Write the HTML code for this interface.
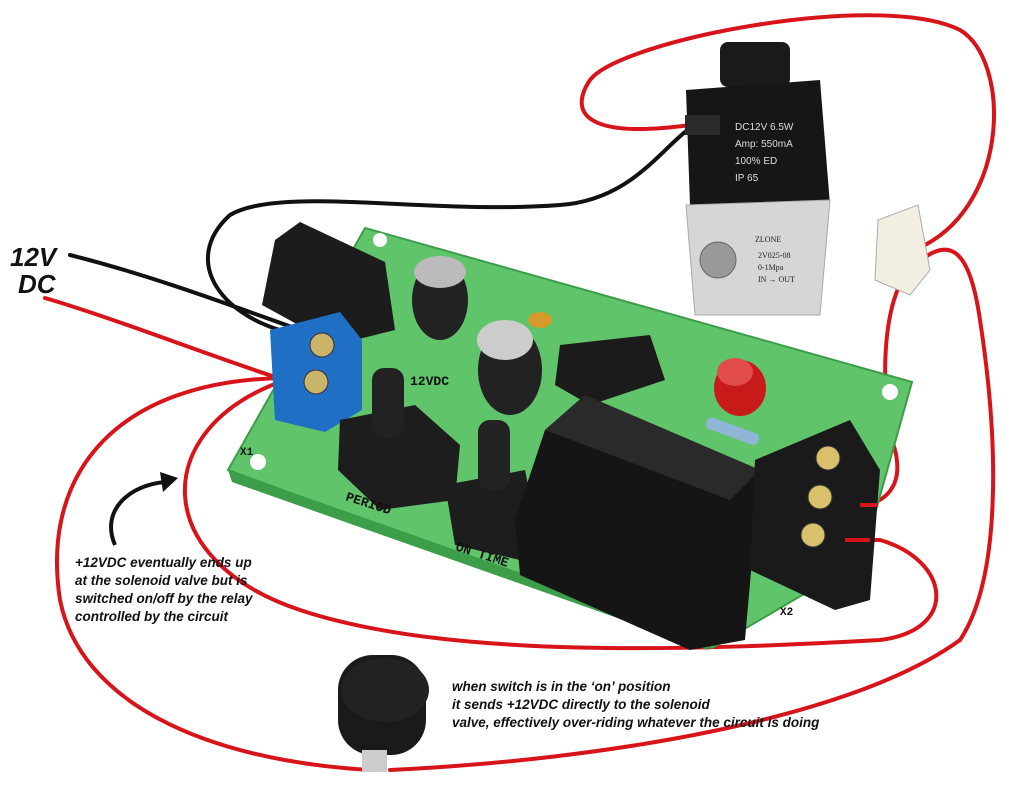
<!DOCTYPE html>
<html><head><meta charset="utf-8"><style>
html,body{margin:0;padding:0;background:#fff;width:1024px;height:800px;overflow:hidden}
svg{display:block}
.t{font-family:"Liberation Sans",sans-serif;font-style:italic;font-weight:bold;fill:#111}
</style></head><body>
<svg width="1024" height="800" viewBox="0 0 1024 800">
<g fill="none" stroke="#d8141b" stroke-width="4" stroke-linecap="round">
<path d="M45,298 C120,320 220,360 285,380"/>
<path d="M285,378 C120,380 40,470 60,600 C80,700 200,760 370,770"/>
<path d="M280,382 C150,430 150,560 300,610 C450,660 700,650 880,640 C960,630 950,560 880,540 L845,540"/>
<path d="M390,770 C600,760 850,720 960,640 C1000,580 1000,450 980,320 C970,250 950,230 910,270 C880,300 880,400 895,450 C905,490 880,505 860,505"/>
<path d="M925,245 C1010,200 1010,60 960,30 C880,-10 620,40 590,80 C570,110 580,140 690,125"/>
</g>
<g fill="none" stroke="#111" stroke-width="4" stroke-linecap="round">
<path d="M70,255 C150,275 230,305 300,330"/>
<path d="M300,335 C220,320 180,260 230,215 C280,185 430,215 560,205 C630,200 660,150 690,128"/>
</g>
<polygon points="365,228 912,382 862,560 712,648 228,470" fill="#5fc46a" stroke="#3c9e49" stroke-width="2"/>
<polygon points="712,640 228,470 232,482 708,650" fill="#3c9e49"/>
<circle cx="258" cy="462" r="8" fill="#fff"/>
<circle cx="890" cy="392" r="8" fill="#fff"/>
<circle cx="380" cy="240" r="7" fill="#fff"/>
<polygon points="275,240 300,222 385,262 395,330 335,345 262,305" fill="#1c1c1c"/>
<ellipse cx="440" cy="300" rx="28" ry="40" fill="#222"/>
<ellipse cx="440" cy="272" rx="26" ry="16" fill="#bbb"/>
<ellipse cx="510" cy="370" rx="32" ry="45" fill="#222"/>
<ellipse cx="505" cy="340" rx="28" ry="20" fill="#ccc"/>
<ellipse cx="540" cy="320" rx="12" ry="8" fill="#d69a2a"/>
<polygon points="560,345 650,335 665,380 590,405 555,385" fill="#1b1b1b"/>
<ellipse cx="740" cy="388" rx="26" ry="28" fill="#c91a1a"/>
<ellipse cx="735" cy="372" rx="18" ry="14" fill="#e24c4c"/>
<rect x="705" y="425" width="55" height="12" rx="5" fill="#8fb6d6" transform="rotate(20 732 431)"/>
<polygon points="270,330 340,312 362,340 362,410 325,432 275,420" fill="#1f6fc4"/>
<circle cx="322" cy="345" r="12" fill="#c9b46a" stroke="#333"/>
<circle cx="316" cy="382" r="12" fill="#c9b46a" stroke="#333"/>
<polygon points="340,420 415,405 460,445 455,500 380,510 338,470" fill="#1d1d1d"/>
<rect x="372" y="368" width="32" height="70" rx="12" fill="#222"/>
<polygon points="445,485 525,470 535,520 520,560 455,545" fill="#1d1d1d"/>
<rect x="478" y="420" width="32" height="70" rx="12" fill="#222"/>
<polygon points="545,430 585,395 760,470 745,640 690,650 520,575 515,520" fill="#151515"/>
<polygon points="545,430 585,395 760,470 730,500" fill="#2a2a2a"/>
<polygon points="755,460 850,420 880,470 870,600 835,610 750,570" fill="#1a1a1a"/>
<circle cx="828" cy="458" r="12" fill="#d9c06a" stroke="#333"/>
<circle cx="820" cy="497" r="12" fill="#d9c06a" stroke="#333"/>
<circle cx="813" cy="535" r="12" fill="#d9c06a" stroke="#333"/>
<g font-family="Liberation Mono,monospace" font-weight="bold" font-size="13" fill="#111">
<text x="345" y="500" transform="rotate(18 345 500)">PERIOD</text>
<text x="455" y="550" transform="rotate(18 455 550)">ON TIME</text>
<text x="410" y="385">12VDC</text>
<text x="240" y="455" font-size="11">X1</text>
<text x="780" y="615" font-size="11">X2</text>
</g>
<g fill="none" stroke="#d8141b" stroke-width="4"><path d="M845,540 L870,540"/><path d="M860,505 L878,505"/></g>
<rect x="720" y="42" width="70" height="45" rx="8" fill="#1a1a1a"/>
<polygon points="686,90 820,80 830,205 690,205" fill="#161616"/>
<rect x="685" y="115" width="35" height="20" fill="#2a2a2a"/>
<g font-family="Liberation Sans,sans-serif" font-size="10" fill="#ddd">
<text x="735" y="130">DC12V  6.5W</text><text x="735" y="147">Amp:  550mA</text>
<text x="735" y="164">100%  ED</text><text x="735" y="181">IP 65</text></g>
<polygon points="686,205 830,200 820,315 695,315" fill="#d4d6d8" stroke="#aaa"/>
<circle cx="718" cy="260" r="18" fill="#999" stroke="#666"/>
<g font-family="Liberation Serif,serif" font-size="8" fill="#222">
<text x="755" y="242">ZLONE</text><text x="758" y="258">2V025-08</text><text x="758" y="270">0-1Mpa</text><text x="758" y="282">IN → OUT</text></g>
<polygon points="878,220 918,205 930,270 910,295 875,280" fill="#f2eee2" stroke="#aaa"/>
<rect x="338" y="655" width="88" height="100" rx="35" fill="#1a1a1a"/>
<ellipse cx="385" cy="690" rx="44" ry="32" fill="#222"/>
<rect x="362" y="750" width="25" height="22" fill="#ccc"/>
<path d="M115,545 C100,510 130,485 165,482" fill="none" stroke="#111" stroke-width="4"/>
<polygon points="178,478 160,472 163,492" fill="#111"/>
<text class="t" x="10" y="266" font-size="26">12V</text>
<text class="t" x="18" y="293" font-size="26">DC</text>
<g class="t" font-size="13.5">
<text x="75" y="567">+12VDC eventually ends up</text>
<text x="75" y="585">at the solenoid valve but is</text>
<text x="75" y="603">switched on/off by the relay</text>
<text x="75" y="621">controlled by the circuit</text>
<text x="452" y="691">when switch is in the ‘on’ position</text>
<text x="452" y="709">it sends +12VDC directly to the solenoid</text>
<text x="452" y="727">valve, effectively over-riding whatever the circuit is doing</text>
</g>
</svg>
</body></html>
